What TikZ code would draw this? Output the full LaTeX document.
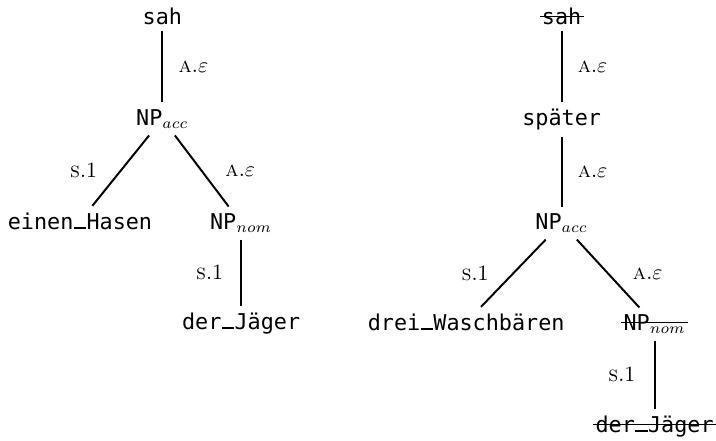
\documentclass[tikz,border=0pt]{standalone}
\usepackage{fontspec}
\setmonofont{DejaVu Sans Mono}
\usepackage{tikz}
\usetikzlibrary{positioning}

% crossed-out word
\newcommand{\struck}[1]{\setbox0=\hbox{#1}\rlap{\hspace{-1pt}\rule[3.2pt]{\dimexpr\wd0+2pt\relax}{0.7pt}}\box0}
% underscore on the baseline
\newcommand{\us}{\makebox[0.602em]{\rule[0.2pt]{0.56em}{0.7pt}}}

\begin{document}
\begin{tikzpicture}[
  tnode/.style={font=\ttfamily, anchor=base, inner sep=3pt},
  edge/.style={line width=0.9pt},
  lblR/.style={midway, right=#1, inner sep=1pt, font=\normalsize},
  lblL/.style={midway, left=#1, inner sep=1pt, font=\normalsize},
]
\useasboundingbox (0,0) rectangle (11.55,7.10);

% left tree
\node[tnode] (sahL) at (2.62, 6.71) {sah};
\node[tnode] (accL) at (2.62, 5.08) {NP$_{acc}$};
\node[tnode] (hasen) at (1.29, 3.40) {einen\us Hasen};
\node[tnode] (nomL) at (3.89, 3.40) {NP$_{nom}$};
\node[tnode] (jaegerL) at (3.89, 1.79) {der\us Jäger};

\draw[edge] (sahL) -- node[lblR=0.21cm] (l1) {\textsc{a}.$\varepsilon$} (accL);
\draw[edge] (accL) -- node[lblL=0.33cm] (l2) {\textsc{s}.1} (hasen);
\draw[edge] (accL) -- node[lblR=0.33cm] (l3) {\textsc{a}.$\varepsilon$} (nomL);
\draw[edge] (nomL) -- node[lblL=0.24cm] (l4) {\textsc{s}.1} (jaegerL);

% right tree
\node[tnode] (sahR) at (9.06, 6.71) {\struck{sah}};
\node[tnode] (spaeter) at (9.06, 5.08) {später};
\node[tnode] (accR) at (9.06, 3.40) {NP$_{acc}$};
\node[tnode] (baeren) at (7.52, 1.77) {drei\us Waschbären};
\node[tnode] (nomR) at (10.56, 1.77) {\struck{NP$_{nom}$}};
\node[tnode] (jaegerR) at (10.56, 0.13) {\struck{der\us Jäger}};

\draw[edge] (sahR) -- node[lblR=0.21cm] (r1) {\textsc{a}.$\varepsilon$} (spaeter);
\draw[edge] (spaeter) -- node[lblR=0.21cm] (r2) {\textsc{a}.$\varepsilon$} (accR);
\draw[edge] (accR) -- node[lblL=0.35cm] (r3) {\textsc{s}.1} (baeren);
\draw[edge] (accR) -- node[lblR=0.35cm] (r4) {\textsc{a}.$\varepsilon$} (nomR);
\draw[edge] (nomR) -- node[lblL=0.26cm] (r5) {\textsc{s}.1} (jaegerR);

\end{tikzpicture}
\end{document}
